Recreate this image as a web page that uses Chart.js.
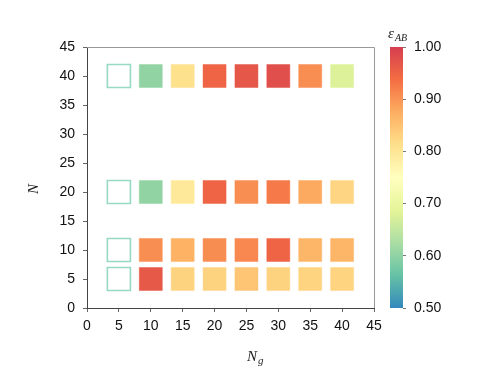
<!DOCTYPE html>
<html>
<head>
<meta charset="utf-8">
<script src="https://cdn.jsdelivr.net/npm/chart.js@4.4.1/dist/chart.umd.min.js"></script>
<style>
  html, body { margin: 0; padding: 0; background: #fff; }
  #wrap { position: relative; width: 491px; height: 380px; }
  #wrap canvas { position: absolute; left: 0; top: 0; }
</style>
</head>
<body>
<div id="wrap">
  <canvas id="mainChart" width="491" height="380"></canvas>
  <canvas id="barChart" width="491" height="380"></canvas>
</div>
<script>
// grid positions
const ngValues = [5, 10, 15, 20, 25, 30, 35, 40];
const nValues = [5, 10, 20, 40];

// epsilon_AB per row (null = no value, drawn as empty box)
const eps5 = [null, 0.965, 0.829, 0.829, 0.846, 0.829, 0.828, 0.828];
const eps10 = [null, 0.906, 0.870, 0.907, 0.912, 0.950, 0.866, 0.866];
const eps20 = [null, 0.602, 0.794, 0.950, 0.906, 0.925, 0.879, 0.826];
const eps40 = [null, 0.602, 0.810, 0.950, 0.967, 0.978, 0.906, 0.677];

const axisTicks = [0, 5, 10, 15, 20, 25, 30, 35, 40, 45];
const cbarTicks = [0.5, 0.6, 0.7, 0.8, 0.9, 1.0];

// Spectral colormap stops
const spectral = [
    [158, 1, 66], [213, 62, 79], [244, 109, 67], [253, 174, 97], [254, 224, 139],
    [255, 255, 191], [230, 245, 152], [171, 221, 164], [102, 194, 165], [50, 136, 189], [94, 79, 162]
];

function cmap(v, alpha) {
    // reversed & truncated (0.1 .. 0.9) Spectral over 0.5 .. 1.0
    let t = Math.min(1, Math.max(0, (1 - v) / 0.5));
    let s = (0.1 + 0.8 * t) * 10;
    let i = Math.min(9, Math.floor(s));
    let f = s - i;
    let a = spectral[i], b = spectral[i + 1];
    let c = a.map((x, k) => Math.round(x + (b[k] - x) * f));
    return "rgba(" + c[0] + "," + c[1] + "," + c[2] + "," + (alpha === undefined ? 1 : alpha) + ")";
}

const rows = [eps5, eps10, eps20, eps40];
const points = [];
rows.forEach((row, r) => {
    row.forEach((v, c) => {
        points.push({ x: ngValues[c], y: nValues[r], v: v });
    });
});

const fontSans = '"Liberation Sans", Arial, sans-serif';

// axis titles with subscripts + frame
const titlesPlugin = {
    id: "titles",
    afterDraw(chart) {
        const ctx = chart.ctx;
        const a = chart.chartArea;
        ctx.save();
        ctx.strokeStyle = "#999";
        ctx.lineWidth = 1;
        ctx.beginPath();
        ctx.moveTo(a.left, a.top + 0.5);
        ctx.lineTo(a.right + 0.5, a.top + 0.5);
        ctx.lineTo(a.right + 0.5, a.bottom);
        ctx.stroke();

        ctx.fillStyle = "#222";
        ctx.textBaseline = "alphabetic";
        ctx.font = 'italic 15px "Liberation Serif", "DejaVu Serif", serif';
        ctx.fillText("N", 247, 361);
        ctx.font = 'italic 11px "Liberation Serif", "DejaVu Serif", serif';
        ctx.fillText("g", 258, 364);

        ctx.translate(38, 189);
        ctx.rotate(-Math.PI / 2);
        ctx.textAlign = "center";
        ctx.font = 'italic 15px "Liberation Serif", "DejaVu Serif", serif';
        ctx.fillText("N", 0, 0);
        ctx.restore();
    }
};

new Chart(document.getElementById("mainChart"), {
    type: "scatter",
    data: {
        datasets: [{
            data: points,
            pointStyle: "rect",
            pointRadius: 16.3,
            pointHoverRadius: 16.3,
            pointBackgroundColor: ctx => ctx.raw.v === null ? "#fff" : cmap(ctx.raw.v),
            pointBorderColor: ctx => ctx.raw.v === null ? "#97d9c4" : cmap(ctx.raw.v, 0.45),
            pointBorderWidth: ctx => ctx.raw.v === null ? 1.6 : 1
        }]
    },
    options: {
        responsive: false,
        animation: false,
        events: [],
        layout: { padding: { top: 47, right: 117, left: 0, bottom: 0 } },
        plugins: { legend: { display: false }, tooltip: { enabled: false } },
        scales: {
            x: {
                type: "linear", min: 0, max: 45,
                afterBuildTicks: s => { s.ticks = axisTicks.map(v => ({ value: v })); },
                afterFit: s => { s.height = 72; },
                grid: { drawOnChartArea: false, tickLength: 4, color: "#666" },
                border: { color: "#444" },
                ticks: { color: "#111", padding: 6, maxRotation: 0, font: { family: fontSans, size: 14 } }
            },
            y: {
                type: "linear", min: 0, max: 45,
                afterBuildTicks: s => { s.ticks = axisTicks.map(v => ({ value: v })); },
                afterFit: s => { s.width = 87; },
                grid: { drawOnChartArea: false, tickLength: 4, color: "#666" },
                border: { color: "#444" },
                ticks: { color: "#111", padding: 8, font: { family: fontSans, size: 14 } }
            }
        }
    },
    plugins: [titlesPlugin]
});

// colorbar
const cbarLabel = {
    id: "cbarLabel",
    afterDraw(chart) {
        const ctx = chart.ctx;
        ctx.save();
        ctx.fillStyle = "#222";
        ctx.font = 'italic 15px "Liberation Serif", "DejaVu Serif", serif';
        ctx.fillText("\u03b5", 388, 38);
        ctx.font = 'italic 10px "Liberation Serif", "DejaVu Serif", serif';
        ctx.fillText("AB", 395, 41);
        ctx.restore();
    }
};

new Chart(document.getElementById("barChart"), {
    type: "bar",
    data: {
        labels: ["eps"],
        datasets: [{
            data: [[cbarTicks[0], cbarTicks[cbarTicks.length - 1]]],
            barPercentage: 1,
            categoryPercentage: 1,
            borderSkipped: false,
            borderWidth: 0,
            backgroundColor: ctx => {
                const a = ctx.chart.chartArea;
                if (!a) return "#ccc";
                const g = ctx.chart.ctx.createLinearGradient(0, a.bottom, 0, a.top);
                for (let i = 0; i <= 50; i++) {
                    g.addColorStop(i / 50, cmap(0.5 + 0.5 * i / 50));
                }
                return g;
            }
        }]
    },
    options: {
        responsive: false,
        animation: false,
        events: [],
        layout: { padding: { top: 47, left: 390, right: 0, bottom: 72 } },
        plugins: { legend: { display: false }, tooltip: { enabled: false } },
        scales: {
            x: { display: false },
            y: {
                position: "right",
                min: 0.5, max: 1.0,
                afterBuildTicks: s => { s.ticks = cbarTicks.map(v => ({ value: v })); },
                afterFit: s => { s.width = 88; },
                grid: { drawOnChartArea: false, tickLength: 3, color: "#777" },
                border: { display: false },
                ticks: {
                    color: "#111", padding: 8,
                    font: { family: fontSans, size: 14 },
                    callback: v => Number(v).toFixed(2)
                }
            }
        }
    },
    plugins: [cbarLabel]
});
</script>
</body>
</html>
